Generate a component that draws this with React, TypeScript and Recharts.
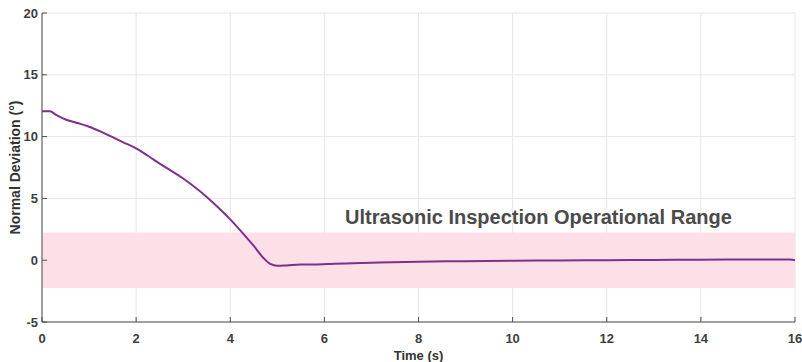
import { LineChart, Line, XAxis, YAxis, CartesianGrid, ReferenceArea, ReferenceDot } from 'recharts';

const AXIS = '#4d4d4d';
const LINE = '#7e2f8e';
const BAND = '#fde0e7';

const timeS = [0, 0.17, 0.3, 0.5, 0.75, 1.0, 1.25, 1.5, 1.75, 2.0, 2.25, 2.5, 2.75, 3.0, 3.25, 3.5, 3.75, 4.0, 4.25, 4.5, 4.7, 4.85, 5.0, 5.2, 5.5, 5.8, 6.2, 7, 8, 9, 10, 11, 12, 13, 14, 15, 15.9, 16];
const deviation = [12.05, 12.05, 11.75, 11.38, 11.1, 10.8, 10.4, 9.95, 9.5, 9.04, 8.45, 7.82, 7.22, 6.61, 5.9, 5.12, 4.25, 3.3, 2.25, 1.15, 0.2, -0.3, -0.45, -0.42, -0.35, -0.35, -0.28, -0.2, -0.12, -0.08, -0.04, -0.02, 0, 0.02, 0.04, 0.05, 0.05, 0.0];

const xTicks = [0, 2, 4, 6, 8, 10, 12, 14, 16];
const yTicks = [-5, 0, 5, 10, 15, 20];
const bandLimits = [-2.25, 2.25];

const data = timeS.map((t, i) => ({ t, dev: deviation[i] }));

const tickStyle = { fontSize: 13, fontWeight: 700, fill: '#404040', fontFamily: 'Liberation Sans, Arial, sans-serif' };

export default function App() {
  return (
    <div style={{ position: 'absolute', left: 0, top: 0, background: '#fff', fontFamily: 'Liberation Sans, Arial, sans-serif' }}>
      <LineChart width={802} height={362} data={data} margin={{ top: 13, right: 7, left: 0, bottom: 0 }}>
        <CartesianGrid stroke="#e6e6e6" />
        <ReferenceArea x1={0} x2={16} y1={bandLimits[0]} y2={bandLimits[1]} fill={BAND} fillOpacity={1} stroke="none" ifOverflow="hidden" />
        <XAxis
          dataKey="t"
          type="number"
          domain={[0, 16]}
          ticks={xTicks}
          stroke={AXIS}
          tickSize={-5}
          tickMargin={17}
          tick={tickStyle}
          height={40}
          label={{ value: 'Time (s)', position: 'insideBottom', offset: 2, style: { fontSize: 13, fontWeight: 700, fill: '#333' } }}
        />
        <XAxis xAxisId="top" orientation="top" type="number" domain={[0, 16]} ticks={xTicks} stroke={AXIS} tickSize={-5} tick={false} height={0} />
        <YAxis
          type="number"
          domain={[-5, 20]}
          ticks={yTicks}
          stroke={AXIS}
          tickSize={-5}
          tickMargin={9}
          tick={tickStyle}
          width={42}
          label={{ value: 'Normal Deviation (°)', angle: -90, position: 'insideLeft', offset: 15, style: { textAnchor: 'middle', fontSize: 14, fontWeight: 700, fill: '#333' } }}
        />
        <YAxis yAxisId="right" orientation="right" type="number" domain={[-5, 20]} ticks={yTicks} stroke={AXIS} tickSize={-5} tick={false} width={0} />
        <ReferenceDot
          x={6.44}
          y={3.5}
          r={0}
          fill="none"
          stroke="none"
          label={{ value: 'Ultrasonic Inspection Operational Range', position: 'right', offset: 0, style: { fontSize: 20, fontWeight: 700, fill: '#4a4a4a' } }}
        />
        <Line type="monotone" dataKey="dev" stroke={LINE} strokeWidth={2} dot={false} isAnimationActive={false} />
      </LineChart>
    </div>
  );
}
